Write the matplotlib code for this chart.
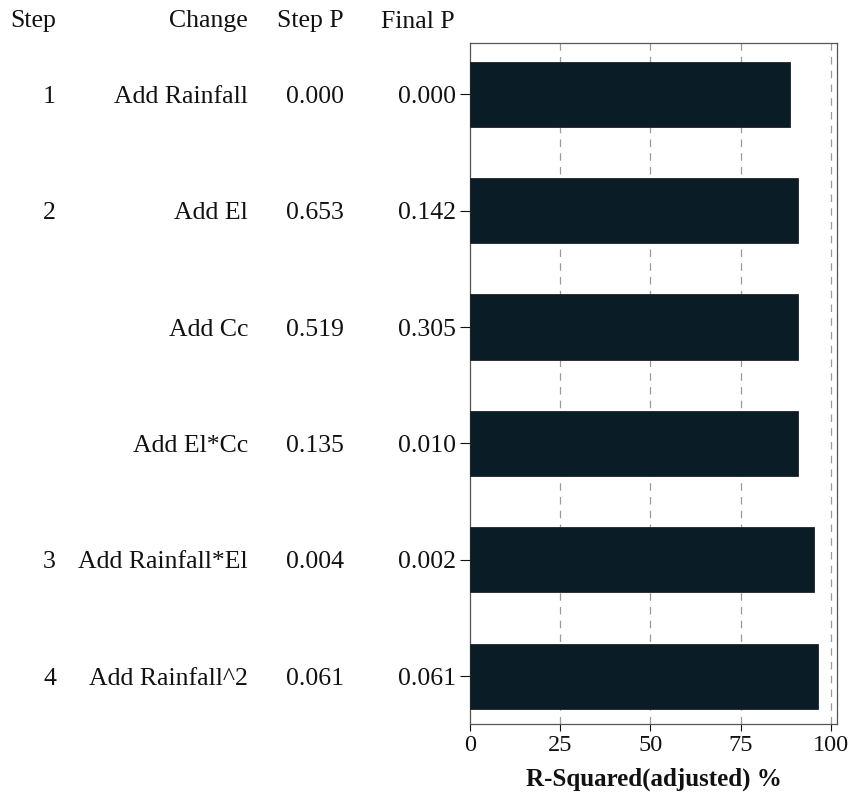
import matplotlib
matplotlib.use("Agg")
import matplotlib.pyplot as plt
import matplotlib.transforms as mtransforms
import numpy as np

plt.rcParams['font.family'] = 'serif'
plt.rcParams['font.serif'] = ['Liberation Serif', 'Times New Roman', 'DejaVu Serif']

steps = ["1", "2", "", "", "3", "4"]
changes = ["Add Rainfall", "Add El", "Add Cc", "Add El*Cc", "Add Rainfall*El", "Add Rainfall^2"]
step_p = ["0.000", "0.653", "0.519", "0.135", "0.004", "0.061"]
final_p = ["0.000", "0.142", "0.305", "0.010", "0.002", "0.061"]
r2_adj = [88.7, 90.9, 90.8, 90.8, 95.3, 96.4]

bar_color = "#0a1c26"
text_color = "#111111"
fs = 18.5

fig = plt.figure(figsize=(8.55, 7.96), dpi=100)
ax = fig.add_axes([0.5497, 0.0905, 0.4293, 0.8555])

y = np.arange(len(changes))
ax.barh(y, r2_adj, height=0.56, color=bar_color, edgecolor="#222222", linewidth=0.6, zorder=3)

ax.set_xlim(0, 101.7)
ax.set_ylim(len(changes) - 0.59, -0.44)
ax.set_xticks([0, 25, 50, 75, 100])
ax.tick_params(axis='x', labelsize=17.5, length=5, width=0.8, pad=3, colors=text_color)
ax.set_yticks(y)
ax.set_yticklabels(final_p)
ax.tick_params(axis='y', labelsize=fs, length=7, width=0.8, pad=3, colors=text_color)

for v in [25, 50, 75, 100]:
    ax.axvline(v, color="#9a9a9a", linestyle=(0, (6, 5)), linewidth=0.9, zorder=1)

for s in ax.spines.values():
    s.set_color("#555555")
    s.set_linewidth(0.9)

ax.set_xlabel("R-Squared(adjusted) %", fontsize=18, fontweight='bold', labelpad=8, color=text_color)

# table columns on the left, one row per bar
trans = mtransforms.blended_transform_factory(fig.transFigure, ax.transData)
col_x = {"step": 56 / 855, "change": 248 / 855, "stepp": 344 / 855}
for i in range(len(changes)):
    fig.text(col_x["step"], y[i], steps[i], transform=trans, ha='right', va='center_baseline',
             fontsize=fs, color=text_color)
    fig.text(col_x["change"], y[i], changes[i], transform=trans, ha='right', va='center_baseline',
             fontsize=fs, color=text_color)
    fig.text(col_x["stepp"], y[i], step_p[i], transform=trans, ha='right', va='center_baseline',
             fontsize=fs, color=text_color)

header_y = 1 - 19 / 796
fig.text(col_x["step"], header_y, "Step", ha='right', va='center_baseline', fontsize=fs, color=text_color)
fig.text(col_x["change"], header_y, "Change", ha='right', va='center_baseline', fontsize=fs, color=text_color)
fig.text(col_x["stepp"], header_y, "Step P", ha='right', va='center_baseline', fontsize=fs, color=text_color)
fig.text(455 / 855, header_y, "Final P", ha='right', va='center_baseline', fontsize=fs, color=text_color)

fig.savefig("out.png", dpi=100)
